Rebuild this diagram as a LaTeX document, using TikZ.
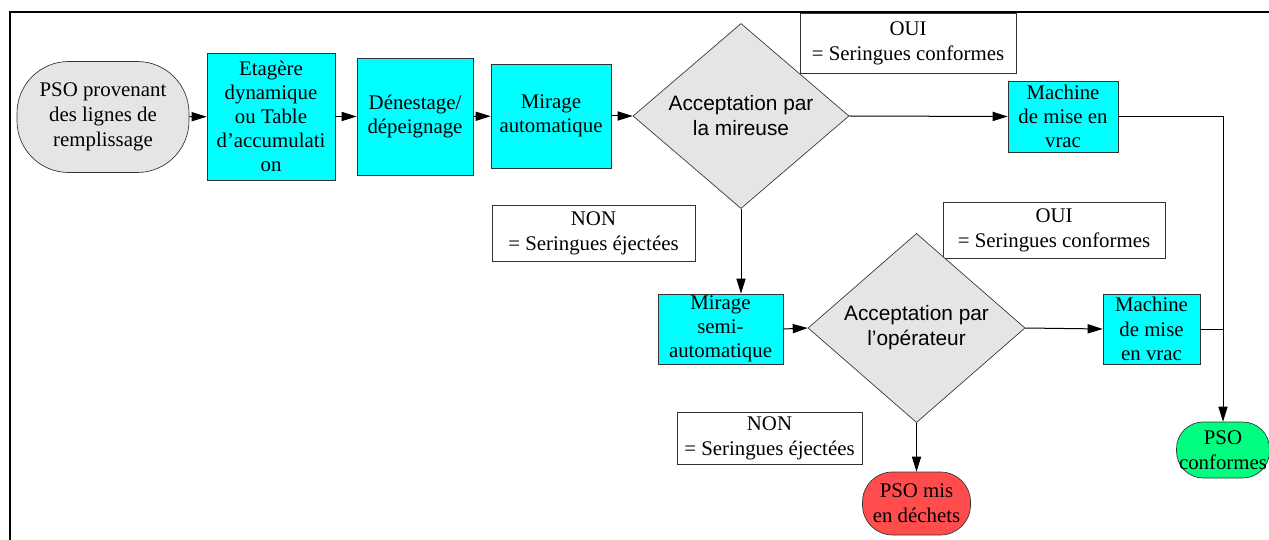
\documentclass[tikz,border=0pt]{standalone}
\usepackage{fontspec}
\setmainfont{Liberation Serif}
\newfontfamily\diamfont{Liberation Sans}
\usepackage{tikz}
\usetikzlibrary{arrows.meta}
\usetikzlibrary{shapes.geometric}

\definecolor{cyanbox}{RGB}{0,255,255}
\definecolor{grisbox}{RGB}{229,229,229}
\definecolor{rougebox}{RGB}{255,77,77}
\definecolor{vertbox}{RGB}{0,255,128}

\tikzset{
  etape/.style={draw=black!80, fill=cyanbox, align=center, inner sep=0.5pt,
    font=\fontsize{12.5}{14.5}\selectfont},
  decision/.style={diamond, draw=black!80, fill=grisbox, align=center, inner sep=0pt,
    font=\diamfont\fontsize{12.5}{15}\selectfont},
  remarque/.style={draw=black!80, fill=white, align=center, inner sep=0.5pt,
    font=\fontsize{12.5}{15}\selectfont},
  terminal/.style={draw=black!80, align=center, inner sep=0.5pt,
    font=\fontsize{12.5}{15}\selectfont},
  fleche/.style={-{Stealth[length=9pt, width=5.5pt, inset=0pt]}, black, line width=0.6pt},
  trait/.style={black, line width=0.6pt}
}

\begin{document}
\begin{tikzpicture}[x=0.6pt, y=-0.6pt]
  \useasboundingbox (0,0) rectangle (1269,540);
  % cadre
  \draw[line width=1.5pt] (10,540) -- (10,12) -- (1269,12);
  % ligne du haut
  \node[terminal, fill=grisbox, rounded corners=31pt, minimum width=103.2pt, minimum height=66.6pt] (pso) at (103,117)
    {PSO provenant\\des lignes de\\remplissage};
  \node[etape, minimum width=76.8pt, minimum height=76.2pt] (etagere) at (271,116.5)
    {Etagère\\dynamique\\ou Table\\d’accumulati\\on};
  \node[etape, minimum width=69.6pt, minimum height=70.2pt] (denest) at (415,116.5)
    {Dénestage/\\dépeignage};
  \node[etape, minimum width=72pt, minimum height=62.4pt] (mirauto) at (551,116)
    {Mirage\\automatique};
  \node[decision, minimum width=129.6pt, minimum height=106.8pt] (acc1) at (741,116)
    {Acceptation par\\la mireuse};
  \node[etape, minimum width=66pt, minimum height=42.6pt] (mach1) at (1063,116.5)
    {Machine\\de mise en\\vrac};
  % remarques
  \node[remarque, minimum width=129.6pt, minimum height=36pt] (oui1) at (908,43)
    {OUI\\= Seringues conformes};
  \node[remarque, minimum width=121.8pt, minimum height=33.6pt] (non1) at (593.5,233)
    {NON\\= Seringues éjectées};
  \node[remarque, minimum width=133.2pt, minimum height=33.6pt] (oui2) at (1054,230)
    {OUI\\= Seringues conformes};
  \node[remarque, minimum width=111pt, minimum height=31.2pt] (non2) at (769.5,438)
    {NON\\= Seringues éjectées};
  % ligne du bas
  \node[etape, minimum width=75pt, minimum height=42pt] (mirsemi) at (720.5,329)
    {Mirage\\semi-\\automatique};
  \node[decision, minimum width=130.2pt, minimum height=110.4pt] (acc2) at (916.5,328)
    {Acceptation par\\l’opérateur};
  \node[etape, minimum width=58.2pt, minimum height=42pt] (mach2) at (1151.5,329)
    {Machine\\de mise\\en vrac};
  % sorties
  \node[terminal, fill=rougebox, rounded corners=18pt, minimum width=64.8pt, minimum height=37.8pt] (dechets) at (916.5,503.5)
    {PSO mis\\en déchets};
  \node[terminal, fill=vertbox, rounded corners=16pt, minimum width=55.8pt, minimum height=33.6pt] (conf) at (1223,450)
    {PSO\\conformes};
  % fleches
  \draw[fleche] (pso) -- (etagere);
  \draw[fleche] (etagere) -- (denest);
  \draw[fleche] (denest) -- (mirauto);
  \draw[fleche] (mirauto) -- (acc1);
  \draw[fleche] (acc1.east) -- (mach1.west);
  \draw[fleche] (acc1.south) -- (acc1.south |- mirsemi.north);
  \draw[fleche] (mirsemi.east) -- (acc2.west);
  \draw[fleche] (acc2.east) -- (mach2.west);
  \draw[fleche] (acc2.south) -- (dechets.north);
  \draw[fleche] (mach1.east) -| (conf.north);
  \draw[trait] (mach2.east) -- (mach2.east -| conf.north);
\end{tikzpicture}
\end{document}
